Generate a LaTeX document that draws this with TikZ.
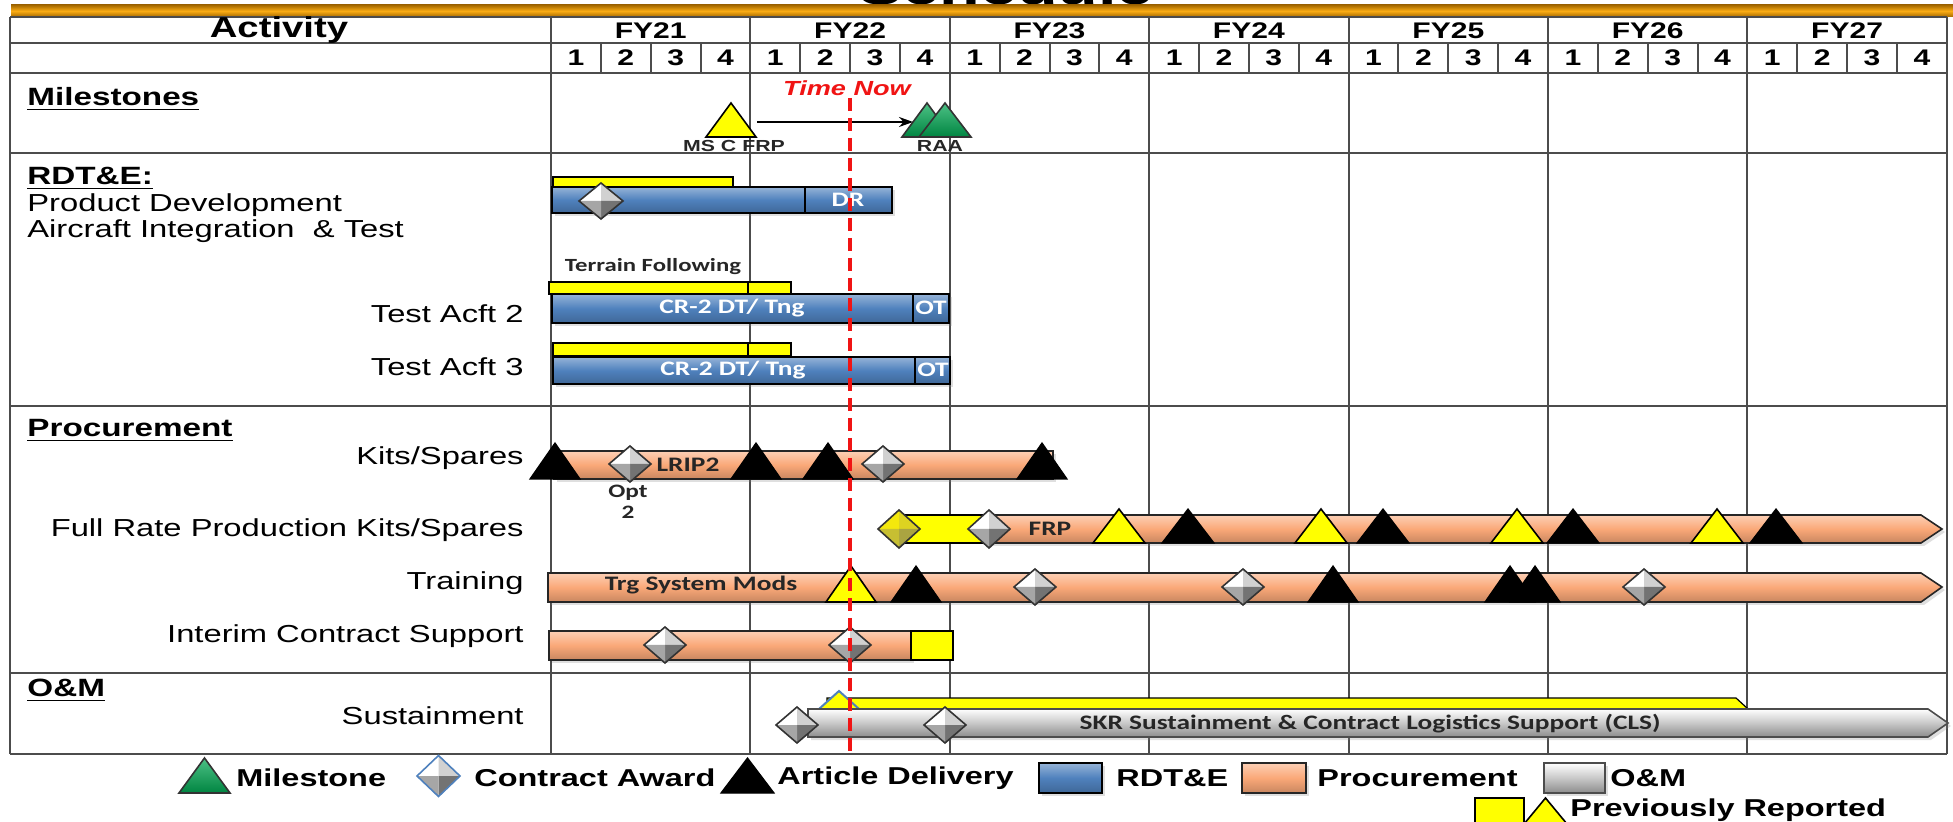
\documentclass[tikz,border=0pt]{standalone}
\usepackage{fontspec}
\setmainfont{Liberation Sans}[FakeStretch=1.33]
\newfontfamily\barfont{Carlito}[FakeStretch=1.33]
\usetikzlibrary{arrows.meta,shadows}

\definecolor{rdtblue}{RGB}{79,129,189}
\definecolor{procorg}{RGB}{250,168,120}
\definecolor{omgray}{RGB}{200,200,200}
\definecolor{prevyel}{RGB}{255,255,0}
\definecolor{msgreen}{RGB}{0,166,81}
\definecolor{golddark}{RGB}{165,105,0}
\definecolor{goldlight}{RGB}{250,172,20}
\definecolor{nowred}{RGB}{240,20,20}

\tikzset{
  gridline/.style={line width=1pt, draw=black!70},
  headtext/.style={inner sep=0, font=\fontsize{11.3}{13}\selectfont\bfseries},
  grouplabel/.style={anchor=base west, inner sep=0, font=\fontsize{12.5}{14}\selectfont\bfseries},
  rowlabel/.style={anchor=base east, inner sep=0, font=\fontsize{12.3}{14}\selectfont},
  barlabel/.style={inner sep=0, font=\barfont\fontsize{10.3}{12}\selectfont\bfseries},
  mslabel/.style={inner sep=0, font=\fontsize{8}{9}\selectfont\bfseries, text=black!85},
  legendtext/.style={anchor=west, inner sep=0, font=\fontsize{12.2}{14}\selectfont\bfseries},
  barshadow/.style={drop shadow={opacity=0.25, shadow xshift=1.5pt, shadow yshift=-1.5pt}},
  rdtbar/.style={barshadow, draw=black, line width=0.8pt, top color=rdtblue!60!white, bottom color=rdtblue!80!black, middle color=rdtblue},
  procbar/.style={barshadow, draw=black!85, line width=0.8pt, top color=procorg!55!white, bottom color=procorg!80!black, middle color=procorg},
  ombar/.style={barshadow, draw=black!70, line width=0.8pt, top color=white, bottom color=omgray!70!black, middle color=omgray},
  yelbar/.style={draw=black, line width=0.6pt, fill=prevyel},
  blacktri/.style={draw=black, line width=0.6pt, fill=black},
  yeltri/.style={draw=black, line width=0.8pt, fill=prevyel},
  greentri/.style={draw=black!80, line width=0.8pt, top color=msgreen!70!white, bottom color=msgreen!80!black},
}

% triangle: x, base y, half width, height, style
\newcommand{\msTri}[5]{%
  \filldraw[#5] ({#1-#3},#2) -- (#1,{#2-#4}) -- ({#1+#3},#2) -- cycle;}
% faceted diamond: x, y, half width, half height, four facet colours, outline
\newcommand{\facetDia}[9]{%
  \fill[#5] ({#1-#3},#2) -- (#1,{#2-#4}) -- (#1,#2) -- cycle;
  \fill[#6] (#1,{#2-#4}) -- ({#1+#3},#2) -- (#1,#2) -- cycle;
  \fill[#7] ({#1+#3},#2) -- (#1,{#2+#4}) -- (#1,#2) -- cycle;
  \fill[#8] (#1,{#2+#4}) -- ({#1-#3},#2) -- (#1,#2) -- cycle;
  \draw[#9, line width=0.8pt] ({#1-#3},#2) -- (#1,{#2-#4}) -- ({#1+#3},#2) -- (#1,{#2+#4}) -- cycle;}
\newcommand{\awardDia}[4]{\facetDia{#1}{#2}{#3}{#4}{white}{black!18}{black!55}{black!35}{black!80}}
\newcommand{\yelDia}[4]{\facetDia{#1}{#2}{#3}{#4}{yellow!95!black}{yellow!85!black}{yellow!62!black}{yellow!75!black}{black!80}}

\begin{document}
\begin{tikzpicture}[x=0.5pt, y=-0.5pt]
\useasboundingbox (0,0) rectangle (1953,822);
\clip (0,0) rectangle (1953,822);

% title and gold bar
\node[anchor=base, inner sep=0, font=\fontsize{25}{28}\selectfont\bfseries] (title) at (1006,5) {Schedule};
\shade[top color=golddark, bottom color=golddark, middle color=goldlight] (11,5) rectangle (1953,17);

% table grid
\foreach \ly in {17,43,73,153,406,673,754}
  \draw[gridline] (10,\ly) -- (1947,\ly);
\draw[gridline] (10,17) -- (10,754);
\foreach \k in {0,...,7}
  \draw[gridline] ({551+199.4*\k},17) -- ({551+199.4*\k},754);
\foreach \j in {1,...,27}
  \draw[gridline] ({551+49.85*\j},43) -- ({551+49.85*\j},73);

% header
\node[headtext, font=\fontsize{14.4}{16}\selectfont\bfseries] (activity) at (279,30) {Activity};
\foreach \yr [count=\k from 0] in {21,...,27}
  \node[headtext] (fy\yr) at ({551+199.4*(\k+0.5)},31) {FY\yr};
\foreach \j in {0,...,27}
  \node[headtext] (q\j) at ({551+49.85*(\j+0.5)},58) {\pgfmathparse{int(mod(\j,4)+1)}\pgfmathresult};

% left column labels
\node[grouplabel] (milestones) at (27,106) {\underline{Milestones}};
\node[grouplabel] (rdte) at (27,185) {\underline{RDT\&E:}};
\node[anchor=base west, inner sep=0, font=\fontsize{12.3}{14}\selectfont] (proddev) at (27,212) {Product Development};
\node[anchor=base west, inner sep=0, font=\fontsize{12.3}{14}\selectfont] (acint) at (27,238) {Aircraft Integration~ \& Test};
\node[rowlabel] (acft2) at (524,323) {Test Acft 2};
\node[rowlabel] (acft3) at (524,376) {Test Acft 3};
\node[grouplabel] (procure) at (27,437) {\underline{Procurement}};
\node[rowlabel] (kits) at (524,465) {Kits/Spares};
\node[rowlabel] (frpkits) at (524,537) {Full Rate Production Kits/Spares};
\node[rowlabel] (training) at (524,590) {Training};
\node[rowlabel] (ics) at (524,643) {Interim Contract Support};
\node[grouplabel] (om) at (27,697) {\underline{O\&M}};
\node[rowlabel] (sustain) at (524,724) {Sustainment};

% milestones
\msTri{731}{137}{25}{34}{yeltri}
\msTri{927}{137}{25}{34}{greentri}
\msTri{945}{137}{26}{34}{greentri}
\coordinate (mscr) at (757,122);
\coordinate (raal) at (913,122);
\draw[line width=0.7pt, -{Stealth[length=7pt, width=5pt]}] (mscr) -- (raal);
\node[mslabel] (msc) at (734,146) {MS C FRP};
\node[mslabel] (raa) at (940,146) {RAA};

% RDT&E
\filldraw[yelbar] (553,177) rectangle (733,187);
\filldraw[rdtbar] (552,187) rectangle (805,213);
\filldraw[rdtbar] (805,187) rectangle (892,213);
\node[barlabel, text=white] (dr) at (848,200) {DR};
\awardDia{601}{201}{22}{18}
\node[barlabel, font=\barfont\fontsize{9.3}{11}\selectfont\bfseries, text=black!85] (terrain) at (653,267) {Terrain Following};
\filldraw[yelbar] (549,282) rectangle (748,294);
\filldraw[yelbar] (748,282) rectangle (791,294);
\filldraw[rdtbar] (552,294) rectangle (913,323);
\filldraw[rdtbar] (913,294) rectangle (949,323);
\node[barlabel, text=white] (dt2) at (732,308) {CR-2 DT/ Tng};
\node[barlabel, text=white] (ot2) at (931,308) {OT};
\filldraw[yelbar] (553,343) rectangle (748,356);
\filldraw[yelbar] (748,343) rectangle (791,356);
\filldraw[rdtbar] (553,357) rectangle (915,384);
\filldraw[rdtbar] (915,357) rectangle (950,384);
\node[barlabel, text=white] (dt3) at (733,370) {CR-2 DT/ Tng};
\node[barlabel, text=white] (ot3) at (933,370) {OT};

% procurement: kits/spares
\filldraw[procbar] (554,451) rectangle (1053,479);
\node[barlabel, text=black!85] (lrip) at (688,465) {LRIP2};
\foreach \dx in {555,756,828,1042}
  {\msTri{\dx}{479}{25}{36}{blacktri}}
\awardDia{630}{464}{21}{18}
\awardDia{883}{464}{21}{18}
\node[barlabel, font=\barfont\fontsize{9.5}{10.5}\selectfont\bfseries, text=black!85, align=center] (opt) at (628,502) {Opt\\2};

% full rate production
\filldraw[procbar] (988,515) -- (1921,515) -- (1942,529) -- (1921,543) -- (988,543) -- cycle;
\filldraw[yelbar] (898,515) rectangle (989,543);
\node[barlabel, text=black!85] (frp) at (1050,529) {FRP};
\yelDia{899}{529}{21}{19}
\awardDia{989}{529}{21}{19}
\foreach \dx in {1119,1321,1517,1717}
  {\msTri{\dx}{543}{26}{34}{yeltri}}
\foreach \dx in {1188,1383,1573,1776}
  {\msTri{\dx}{543}{26}{34}{blacktri}}

% training
\filldraw[procbar] (548,573) -- (1921,573) -- (1942,587) -- (1921,602) -- (548,602) -- cycle;
\node[barlabel, text=black!85] (trg) at (701,585) {Trg System Mods};
\msTri{851}{602}{25}{36}{yeltri}
\foreach \dx in {916,1333,1510,1535}
  {\msTri{\dx}{602}{25}{36}{blacktri}}
\foreach \dx in {1035,1243,1644}
  {\awardDia{\dx}{587}{21}{18}}

% interim contract support
\filldraw[procbar] (549,631) rectangle (911,660);
\filldraw[yelbar] (911,631) rectangle (953,660);
\awardDia{665}{645}{21}{18}
\awardDia{850}{645}{21}{18}

% O&M sustainment
\filldraw[yelbar] (827,698) -- (1736,698) -- (1748,709) -- (827,709) -- cycle;
\filldraw[draw=rdtblue, line width=1pt, fill=prevyel] (819,709) -- (839,691) -- (859,709) -- cycle;
\filldraw[ombar] (808,709) -- (1928,709) -- (1948,723) -- (1928,737) -- (808,737) -- cycle;
\awardDia{797}{725}{21}{18}
\awardDia{945}{725}{21}{18}
\node[barlabel, text=black!85] (skr) at (1370,724) {SKR Sustainment \& Contract Logistics Support (CLS)};

% time now
\node[inner sep=0, font=\fontsize{10.2}{12}\selectfont\bfseries\itshape, text=nowred] (now) at (847,88) {Time Now};
\coordinate (nowtop) at (850,98);
\coordinate (nowbot) at (850,754);
\draw[nowred, line width=2pt, dash pattern=on 6.5pt off 3.5pt] (nowtop) -- (nowbot);

% legend
\msTri{204.5}{793}{25.5}{35}{greentri}
\node[legendtext] (lgms) at (236,778) {Milestone};
\facetDia{438.5}{776}{21.5}{20.5}{white}{black!18}{black!55}{black!35}{rdtblue}
\node[legendtext] (lgca) at (474,778) {Contract Award};
\msTri{747.5}{793}{26.5}{35}{blacktri}
\node[legendtext] (lgad) at (777,778) {Article Delivery};
\filldraw[rdtbar] (1039,763) rectangle (1102,793);
\node[legendtext] (lgrd) at (1116,778) {RDT\&E};
\filldraw[procbar] (1242,763) rectangle (1306,793);
\node[legendtext] (lgpr) at (1317,778) {Procurement};
\filldraw[ombar] (1544,763) rectangle (1605,793);
\node[legendtext] (lgom) at (1610,778) {O\&M};
\filldraw[yelbar] (1475,798) rectangle (1524,824);
\msTri{1545.5}{824}{21.5}{26}{yeltri}
\node[legendtext] (lgprev) at (1570,810) {Previously Reported};
\end{tikzpicture}
\end{document}
